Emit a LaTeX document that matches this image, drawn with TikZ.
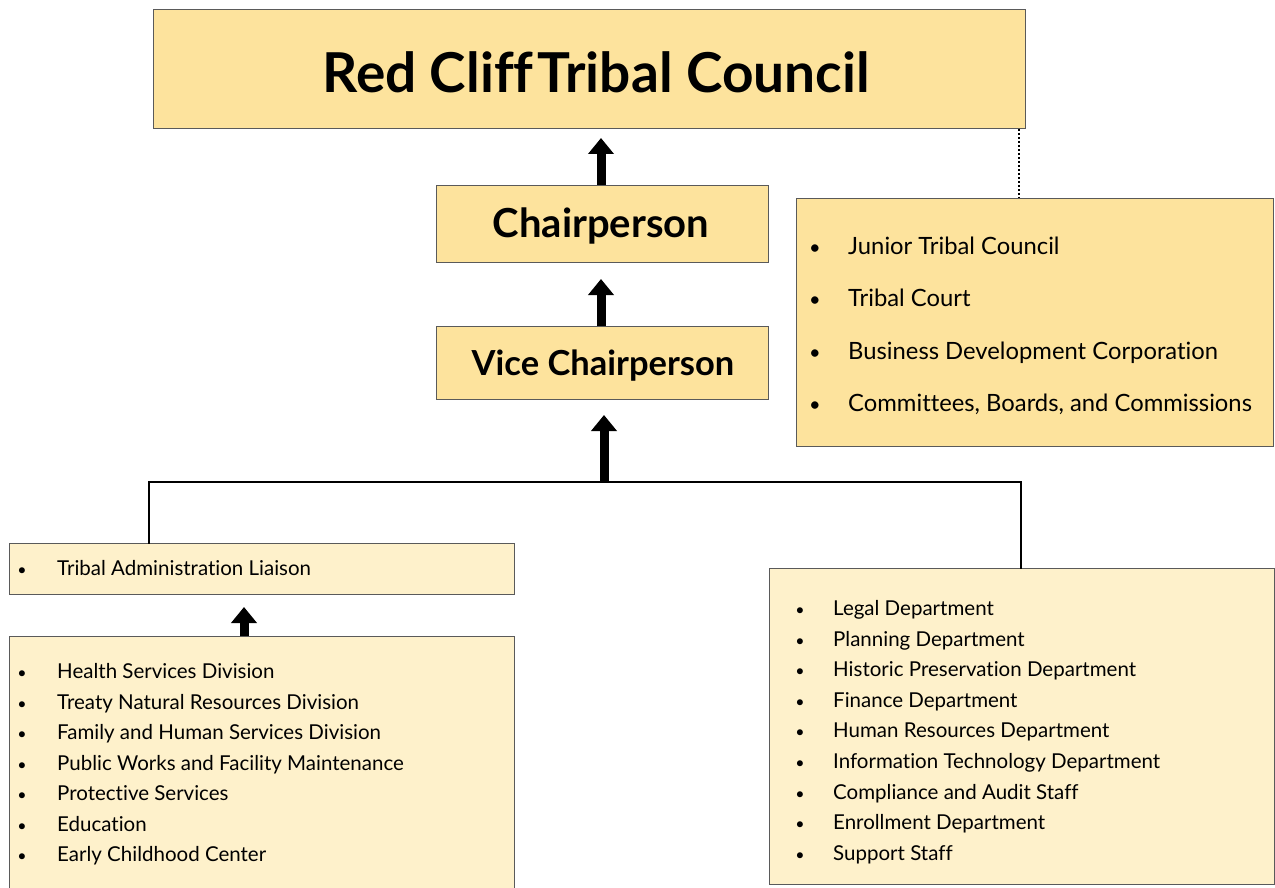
\documentclass[tikz,border=0pt]{standalone}
\usepackage{fontspec}
\setmainfont{Lato}[Ligatures=NoCommon]
\usetikzlibrary{arrows.meta}
\definecolor{gold}{HTML}{FDE39D}
\definecolor{pale}{HTML}{FEF1CB}
\definecolor{edge}{HTML}{5A5A5A}
\tikzset{
  box/.style={draw=edge, line width=1pt, inner sep=0pt, anchor=north west},
  goldbox/.style={box, fill=gold},
  palebox/.style={box, fill=pale},
  bigarrow/.style={line width=9pt, -{Triangle[width=25pt,length=16pt]}},
  conn/.style={line width=2pt, line cap=rect},
  item/.style={anchor=mid west, inner sep=0pt},
  bul/.style={anchor=mid, inner sep=0pt},
}
\begin{document}
\begin{tikzpicture}[x=1pt,y=-1pt]
\useasboundingbox (0,0) rectangle (1275,888);
\fill[white] (0,0) rectangle (1275,888);
% boxes
\node[goldbox, minimum width=872pt, minimum height=119pt] (council) at (153,9) {};
\node[font=\bfseries\fontsize{55}{60}\selectfont] (title) at (596,72) {Red Cliff\hspace{0.08em}Tribal Council};
\node[goldbox, minimum width=332pt, minimum height=77pt] (chair) at (436,185) {};
\node[font=\bfseries\fontsize{40}{44}\selectfont] (chairt) at (601,226) {Chairperson};
\node[goldbox, minimum width=332pt, minimum height=73pt] (vice) at (436,326) {};
\node[font=\bfseries\fontsize{34.5}{38}\selectfont] (vicet) at (603,366) {Vice Chairperson};
\node[goldbox, minimum width=477pt, minimum height=248pt] (junior) at (796,198) {};
\node[palebox, minimum width=505pt, minimum height=51pt] (liaison) at (9,543) {};
\node[palebox, minimum width=505pt, minimum height=260pt] (left) at (9,636) {};
\node[palebox, minimum width=505pt, minimum height=316pt] (right) at (769,568) {};
% junior list
\foreach \t [count=\i] in {Junior Tribal Council, Tribal Court, Business Development Corporation, {Committees, Boards, and Commissions}} {
  \pgfmathsetmacro{\yy}{252+52.4*(\i-1)}
  \node[bul, font=\fontsize{20}{22}\selectfont] (jb\i) at (815,\yy) {•};
  \node[item, font=\fontsize{23.8}{26}\selectfont] (j\i) at (848,\yy) {\t};
}
% liaison
\node[bul, font=\fontsize{16}{18}\selectfont] (lb0) at (22,573) {•};
\node[item, font=\fontsize{20.5}{22}\selectfont] (l0) at (57,573) {Tribal Administration Liaison};
% left list
\foreach \t [count=\i] in {Health Services Division, Treaty Natural Resources Division, Family and Human Services Division, Public Works and Facility Maintenance, Protective Services, Education, Early Childhood Center} {
  \pgfmathsetmacro{\yy}{676+30.5*(\i-1)}
  \node[bul, font=\fontsize{16}{18}\selectfont] (lb\i) at (22,\yy) {•};
  \node[item, font=\fontsize{20.5}{22}\selectfont] (l\i) at (57,\yy) {\t};
}
% right list
\foreach \t [count=\i] in {Legal Department, Planning Department, Historic Preservation Department, Finance Department, Human Resources Department, Information Technology Department, Compliance and Audit Staff, Enrollment Department, Support Staff} {
  \pgfmathsetmacro{\yy}{613+30.6*(\i-1)}
  \node[bul, font=\fontsize{16}{18}\selectfont] (rb\i) at (800,\yy) {•};
  \node[item, font=\fontsize{20.5}{22}\selectfont] (r\i) at (833,\yy) {\t};
}
% connectors
\coordinate (a1) at (601,0);
\draw[bigarrow, shorten >=9pt] (chair.north -| a1) -- (council.south -| a1);
\draw[bigarrow, shorten >=16pt] (vice.north -| a1) -- (chair.south -| a1);
\coordinate (jl) at (149,482);
\coordinate (jm) at (604,482);
\coordinate (jr) at (1021,482);
\draw[conn] (liaison.north -| jl) -- (jl) -- (jr) -- (right.north -| jr);
\draw[bigarrow, shorten >=15pt] (jm) -- (vice.south -| jm);
\coordinate (a4) at (244,0);
\draw[bigarrow, shorten >=12pt] (left.north -| a4) -- (liaison.south -| a4);
\coordinate (dl) at (1019,0);
\draw[line width=2pt, dotted] (council.south -| dl) -- (junior.north -| dl);
\end{tikzpicture}
\end{document}
